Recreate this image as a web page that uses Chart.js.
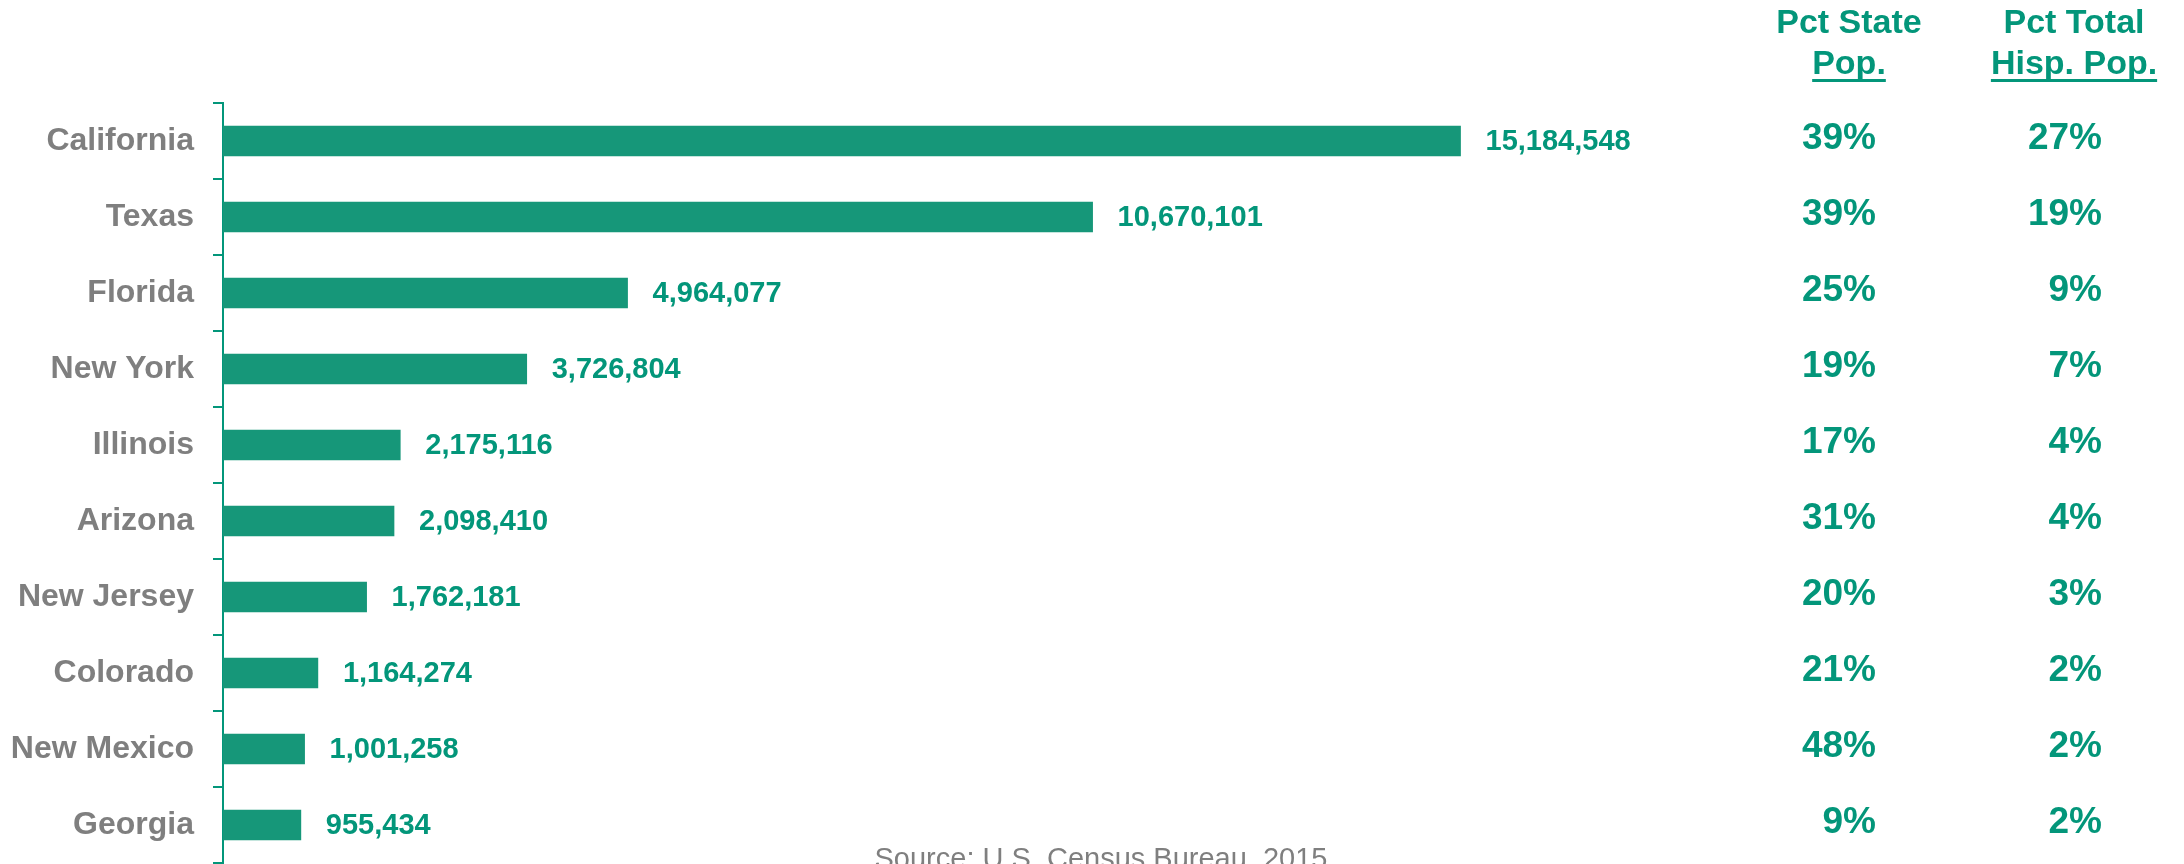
<!DOCTYPE html>
<html>
<head>
<meta charset="utf-8">
<script src="https://cdn.jsdelivr.net/npm/chart.js@4/dist/chart.umd.min.js"></script>
<style>
  html, body { margin: 0; padding: 0; background: #fff; }
  #wrap { width: 2184px; height: 864px; position: relative; }
</style>
</head>
<body>
<div id="wrap"><canvas id="chart"></canvas></div>
<script>
// Data
const states = ['California', 'Texas', 'Florida', 'New York', 'Illinois', 'Arizona', 'New Jersey', 'Colorado', 'New Mexico', 'Georgia'];
const hispanicPop = [15184548, 10670101, 4964077, 3726804, 2175116, 2098410, 1762181, 1164274, 1001258, 955434];
const pctStatePop = ['39%', '39%', '25%', '19%', '17%', '31%', '20%', '21%', '48%', '9%'];
const pctTotalHisp = ['27%', '19%', '9%', '7%', '4%', '4%', '3%', '2%', '2%', '2%'];
const columnHeaders = [['Pct State', 'Pop.'], ['Pct Total', 'Hisp. Pop.']];
const sourceNote = 'Source: U.S. Census Bureau, 2015';

const BAR = '#169779';
const TEAL = '#03967A';
const GRAY = '#7f7f7f';
const FONT = '"Liberation Sans", Arial, sans-serif';

// value labels at the end of each bar
const valueLabels = {
  id: 'valueLabels',
  afterDatasetsDraw(chart) {
    const ctx = chart.ctx;
    const meta = chart.getDatasetMeta(0);
    ctx.save();
    ctx.fillStyle = TEAL;
    ctx.font = 'bold 29px ' + FONT;
    ctx.textAlign = 'left';
    ctx.textBaseline = 'middle';
    meta.data.forEach((bar, i) => {
      ctx.fillText(hispanicPop[i].toLocaleString('en-US'), bar.x + 25, bar.y + 1);
    });
    ctx.restore();
  }
};

// the two percentage columns on the right, plus the source note
const sideColumns = {
  id: 'sideColumns',
  afterDraw(chart) {
    const ctx = chart.ctx;
    const y = chart.scales.y;
    const cols = [
      { right: 1876, center: 1849, values: pctStatePop },
      { right: 2102, center: 2074, values: pctTotalHisp }
    ];
    ctx.save();
    ctx.fillStyle = TEAL;
    ctx.strokeStyle = TEAL;

    cols.forEach((col, c) => {
      // header
      ctx.font = 'bold 34px ' + FONT;
      ctx.textAlign = 'center';
      ctx.textBaseline = 'alphabetic';
      ctx.fillText(columnHeaders[c][0], col.center, 33);
      ctx.fillText(columnHeaders[c][1], col.center, 74);
      const w = ctx.measureText(columnHeaders[c][1]).width;
      ctx.lineWidth = 3;
      ctx.beginPath();
      ctx.moveTo(col.center - w / 2, 80.5);
      ctx.lineTo(col.center + w / 2, 80.5);
      ctx.stroke();

      // values
      ctx.font = 'bold 37px ' + FONT;
      ctx.textAlign = 'right';
      ctx.textBaseline = 'middle';
      col.values.forEach((v, i) => {
        ctx.fillText(v, col.right, y.getPixelForValue(i) - 2);
      });
    });

    ctx.fillStyle = GRAY;
    ctx.font = '29px ' + FONT;
    ctx.textAlign = 'center';
    ctx.textBaseline = 'alphabetic';
    ctx.fillText(sourceNote, 1101, 868);
    ctx.restore();
  }
};

new Chart(document.getElementById('chart'), {
  type: 'bar',
  data: {
    labels: states,
    datasets: [{
      data: hispanicPop,
      backgroundColor: BAR,
      borderWidth: 0,
      barThickness: 30
    }]
  },
  options: {
    indexAxis: 'y',
    responsive: true,
    maintainAspectRatio: false,
    animation: false,
    layout: { padding: { top: 103, bottom: 1, left: 0, right: 494 } },
    plugins: {
      legend: { display: false },
      tooltip: { enabled: false }
    },
    scales: {
      x: {
        display: false,
        min: 0,
        max: 18000000
      },
      y: {
        offset: true,
        afterFit(scale) {
          scale.width = 223;
          // labels sit inside their bands, no need for extra room top/bottom
          scale.paddingTop = 0;
          scale.paddingBottom = 0;
        },
        border: { display: true, color: TEAL, width: 2 },
        grid: {
          offset: true,
          drawOnChartArea: false,
          drawTicks: true,
          tickLength: 10,
          color: TEAL,
          lineWidth: 2
        },
        ticks: {
          padding: 19,
          color: GRAY,
          font: { family: FONT, size: 32, weight: 'bold' }
        }
      }
    }
  },
  plugins: [valueLabels, sideColumns]
});
</script>
</body>
</html>
